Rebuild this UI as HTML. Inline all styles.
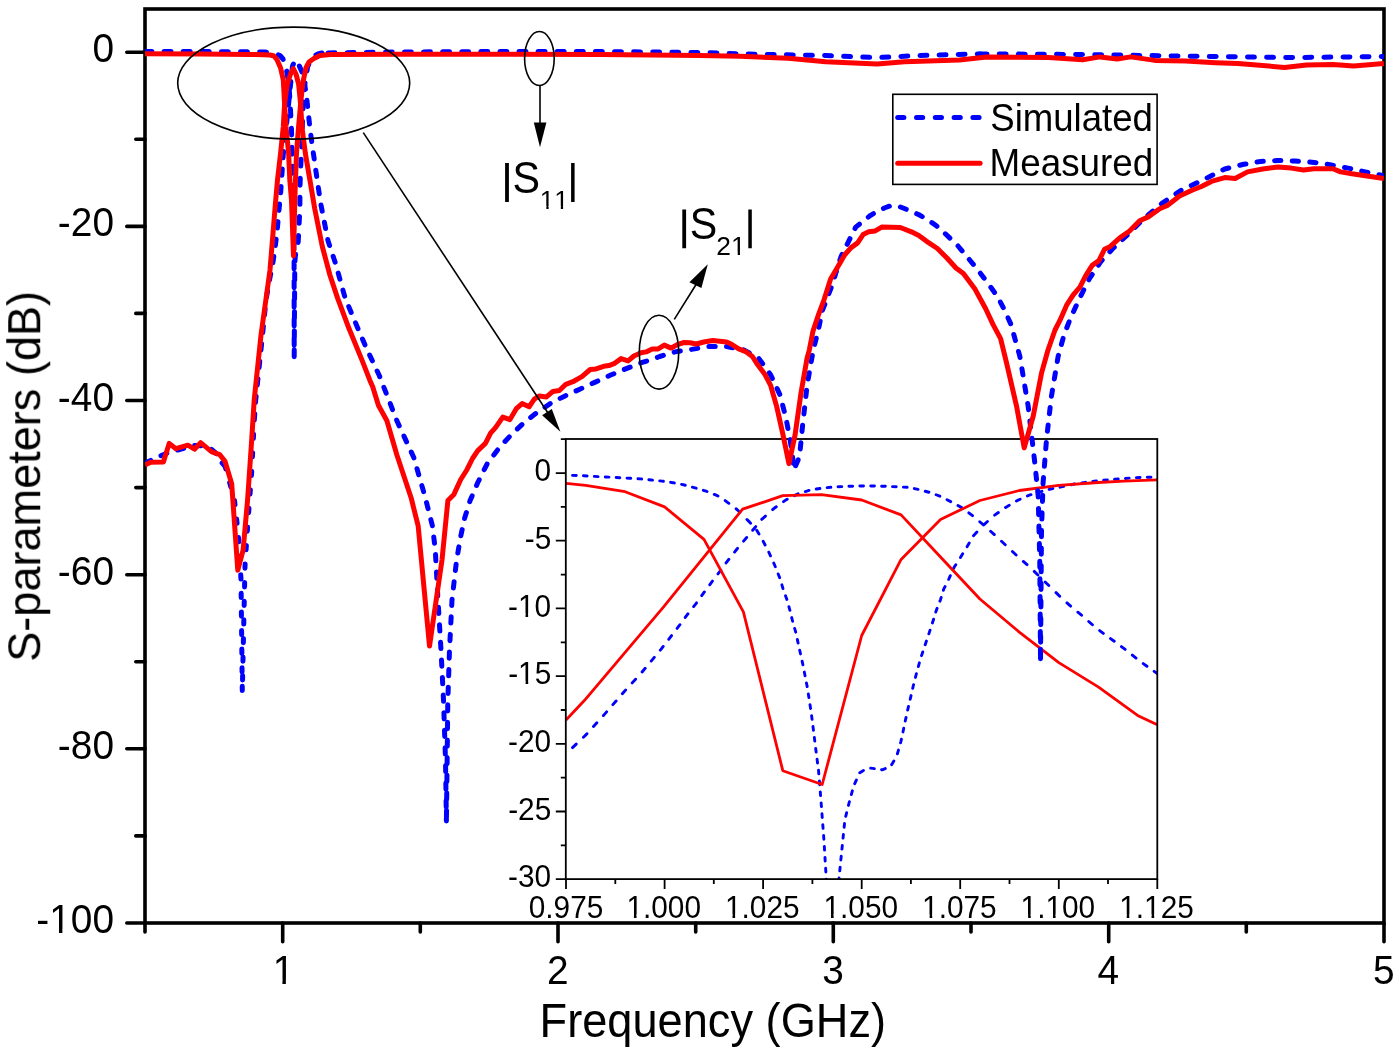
<!DOCTYPE html>
<html><head><meta charset="utf-8"><title>S-parameters</title><style>
html,body{margin:0;padding:0;background:#fff;}
body{width:1400px;height:1053px;overflow:hidden;font-family:"Liberation Sans", sans-serif;}
svg{display:block;}
</style></head><body>
<svg width="1400" height="1053" viewBox="0 0 1400 1053" font-family='"Liberation Sans", sans-serif'><rect width="1400" height="1053" fill="#fff"/><rect x="565.8" y="439.0" width="591.5" height="440.1" fill="#fff"/><defs><clipPath id="ic"><rect x="565.8" y="439.0" width="591.5" height="440.1"/></clipPath><clipPath id="mc"><rect x="145" y="9" width="1239" height="914"/></clipPath></defs><g clip-path="url(#ic)" fill="none" stroke-linejoin="round"><path d="M572.55,475.39L576.25,475.49M583.45,475.80L587.15,476.01M594.35,476.40L598.05,476.59M605.25,476.96L608.95,477.15M616.15,477.52L619.85,477.71M627.05,478.08L629.30,478.20L630.75,478.29M637.95,478.73L640.70,478.90L641.65,479.00M648.85,479.74L651.40,480.00L652.55,480.12M659.75,480.86L662.10,481.10L663.45,481.30M670.65,482.33L673.20,482.70L674.35,482.94M681.55,484.43L684.30,485.00L685.25,485.26M692.45,487.21L695.00,487.90L696.15,488.23M703.35,490.31L706.10,491.10L707.05,491.48M714.25,494.38L716.80,495.40L717.95,496.10M725.15,500.54L728.85,503.34M736.05,508.78L737.00,509.50L739.75,512.25M746.95,519.45L749.40,521.90L750.58,523.15M756.73,530.35L758.99,534.05M763.16,541.25L765.12,544.95M768.79,552.15L770.48,555.85M773.76,563.05L774.10,563.80L775.29,566.75M778.17,573.95L779.66,577.65M781.90,584.85L782.98,588.55M785.50,595.75L786.89,599.45M788.90,606.65L789.91,610.35M791.68,617.55L792.59,621.25M794.64,628.45L795.71,632.15M797.33,639.35L798.11,643.05M799.70,650.25L800.53,653.95M802.11,661.15L802.91,664.85M804.33,672.05L805.04,675.75M806.45,682.95L807.18,686.65M808.33,693.85L808.88,697.55M810.00,704.75L810.59,708.45M811.59,715.65L812.07,719.35M812.98,726.55L813.43,730.25M814.33,737.45L814.79,741.15M815.68,748.35L816.14,752.05M817.07,759.25L817.56,762.95M818.51,770.15L818.81,773.85M819.39,781.05L819.69,784.75M820.27,791.95L820.57,795.65M821.14,802.85L821.42,806.55M821.96,813.75L822.23,817.45M822.78,824.65L823.05,828.35M823.60,835.55L823.87,839.25M824.31,846.45L824.54,850.15M824.97,857.35L825.19,861.05M825.63,868.25L825.85,871.95M826.29,879.15L826.30,879.40M838.90,879.40L839.04,878.05M839.76,870.85L840.13,867.15M840.85,859.95L841.22,856.25M841.94,849.05L842.32,845.35M843.04,838.15L843.41,834.45M844.13,827.25L844.50,823.55M845.72,816.35L846.65,812.65M848.45,805.45L849.38,801.75M851.33,794.55L852.36,790.85M854.74,783.65L856.45,779.95M859.78,772.75L859.80,772.70L863.45,770.47M870.65,768.16L874.35,768.62M881.55,769.71L882.10,769.80L885.25,768.62M891.63,764.65L893.85,760.95M897.40,753.75L898.47,750.05M900.54,742.85L900.90,741.60L901.42,739.15M902.95,731.95L903.73,728.25M905.26,721.05L906.05,717.35M907.63,710.15L908.50,706.45M910.19,699.25L910.30,698.80L911.05,695.55M912.70,688.35L913.40,685.30L913.57,684.65M915.43,677.45L916.38,673.75M918.33,666.55L919.37,662.85M921.52,655.65L922.77,651.95M925.18,644.75L926.43,641.05M928.85,633.85L929.10,633.10L930.06,630.15M932.40,622.95L933.20,620.50L933.58,619.25M935.80,612.05L936.40,610.10L937.09,608.35M939.93,601.15L940.50,599.70L941.18,597.45M943.38,590.25L943.70,589.20L945.02,586.55M948.62,579.35L948.90,578.80L950.32,575.65M953.58,568.45L954.10,567.30L955.77,564.75M960.45,557.55L962.69,553.85M967.05,546.65L969.23,542.95M973.49,535.75L973.70,535.40L976.89,532.05M983.76,524.85L984.00,524.60L987.45,521.52M994.65,515.16L998.35,512.56M1005.55,507.51L1005.70,507.40L1009.25,505.30M1016.45,501.03L1017.50,500.40L1020.15,499.21M1027.35,495.96L1028.60,495.40L1031.05,494.63M1038.25,492.35L1040.00,491.80L1041.95,491.29M1049.15,489.41L1050.70,489.00L1052.85,488.58M1060.05,487.17L1061.40,486.90L1063.75,486.37M1070.95,484.74L1072.90,484.30L1074.65,484.02M1081.85,482.88L1083.60,482.60L1085.55,482.33M1092.75,481.32L1094.30,481.10L1096.45,480.90M1103.65,480.25L1107.35,479.91M1114.55,479.28L1118.25,478.99M1125.45,478.44L1129.15,478.15M1136.35,477.66L1140.05,477.54M1147.25,477.32L1150.95,477.20M572.53,747.61L576.23,744.11M583.43,737.29L585.00,735.80L586.94,733.67M593.48,726.47L596.85,722.77M603.39,715.57L604.00,714.90L606.63,711.87M612.88,704.67L616.09,700.97M622.33,693.77L623.00,693.00L625.66,690.07M632.21,682.87L635.57,679.17M642.11,671.97L645.19,668.27M651.19,661.07L654.28,657.37M660.28,650.17L661.00,649.30L663.18,646.47M668.72,639.27L671.56,635.57M677.10,628.37L679.95,624.67M685.23,617.47L687.70,614.10L687.96,613.77M693.63,606.57L696.20,603.30L696.51,602.87M701.70,595.67L704.20,592.20L704.37,591.97M709.70,584.77L712.20,581.40L712.45,581.07M717.97,573.87L720.70,570.30L720.80,570.17M726.08,562.97L727.60,560.90L728.89,559.27M734.58,552.07L737.00,549.00L737.53,548.37M743.56,541.17L746.66,537.47M752.67,530.27L755.74,526.57M761.73,519.37L765.43,516.06M772.63,509.62L774.10,508.30L776.33,506.72M783.53,501.63L786.40,499.60L787.23,499.19M794.43,495.65L798.13,493.83M805.33,491.54L809.03,490.42M816.23,489.01L819.93,488.45M827.13,487.60L830.83,487.30M838.03,486.79L841.73,486.61M848.93,486.28L852.63,486.19M859.83,486.00L860.00,486.00L863.53,486.00M870.73,486.00L872.00,486.00L874.43,486.05M881.63,486.19L885.33,486.27M892.53,486.60L896.23,486.79M903.43,487.14L907.13,487.31M914.33,488.57L918.03,489.39M925.23,491.25L928.93,492.24M936.13,494.76L939.83,496.13M947.03,499.70L950.73,501.64M957.93,505.58L961.63,507.62M968.83,512.82L972.53,515.69M979.73,521.73L983.43,524.88M990.63,531.25L994.33,534.57M1001.53,541.24L1005.23,544.73M1012.43,551.54L1016.13,555.04M1023.33,561.44L1027.03,564.64M1034.23,571.40L1037.93,575.00M1045.13,581.96L1048.83,585.52M1056.03,592.63L1059.73,596.33M1066.93,602.87L1070.63,606.15M1077.83,612.19L1081.53,615.23M1088.73,621.46L1092.43,624.74M1099.63,630.55L1103.33,633.36M1110.53,638.62L1114.23,641.24M1121.43,646.57L1125.13,649.42M1132.33,655.08L1136.03,658.05M1143.23,663.58L1146.93,666.28M1154.13,671.33L1157.30,673.50" stroke="#00f" stroke-width="2.9" stroke-linecap="round" stroke-linejoin="round" fill="none"/><polyline points="566.0,483.3 585.7,485.4 625.1,491.7 664.6,506.9 704.0,539.3 743.4,611.9 782.8,770.7 822.2,784.5 861.7,635.5 901.1,559.4 940.5,519.5 979.9,500.5 1019.3,490.5 1058.8,485.4 1098.2,482.5 1123.8,481.2 1157.3,479.8" stroke="#f00" stroke-width="2.8"/><polyline points="566.0,720.0 584.1,700.8 663.4,607.1 742.6,509.2 782.8,495.7 821.4,494.7 861.7,500.0 901.1,514.9 940.5,557.0 979.9,599.0 1019.3,632.1 1058.8,662.6 1098.2,686.9 1137.6,715.4 1157.3,724.8" stroke="#f00" stroke-width="2.8"/></g><rect x="565.8" y="439.0" width="591.5" height="440.1" fill="none" stroke="#000" stroke-width="1.8"/><path d="M560.8,439.2H565.8 M555.8,473.1H565.8 M560.8,506.9H565.8 M555.8,540.7H565.8 M560.8,574.6H565.8 M555.8,608.4H565.8 M560.8,642.3H565.8 M555.8,676.1H565.8 M560.8,710.0H565.8 M555.8,743.8H565.8 M560.8,777.6H565.8 M555.8,811.5H565.8 M560.8,845.3H565.8 M555.8,879.2H565.8 M566.0,879.1V889.1 M615.3,879.1V884.1 M664.6,879.1V889.1 M713.8,879.1V884.1 M763.1,879.1V889.1 M812.4,879.1V884.1 M861.7,879.1V889.1 M910.9,879.1V884.1 M960.2,879.1V889.1 M1009.5,879.1V884.1 M1058.8,879.1V889.1 M1108.0,879.1V884.1 M1157.3,879.1V889.1" stroke="#000" stroke-width="1.8" fill="none"/><rect x="145" y="9" width="1239" height="914" fill="none" stroke="#000" stroke-width="3.6"/><path d="M126.8,52.2H145 M135.8,139.3H145 M126.8,226.4H145 M135.8,313.4H145 M126.8,400.5H145 M135.8,487.6H145 M126.8,574.7H145 M135.8,661.8H145 M126.8,748.8H145 M135.8,835.9H145 M126.8,923.0H145 M145.0,923V932.0 M282.7,923V941.8 M420.3,923V932.0 M558.0,923V941.8 M695.7,923V932.0 M833.3,923V941.8 M971.0,923V932.0 M1108.7,923V941.8 M1246.3,923V932.0 M1384.0,923V941.8" stroke="#000" stroke-width="3.6" stroke-linecap="round" fill="none"/><g clip-path="url(#mc)" fill="none" stroke-linejoin="round"><polyline points="145.0,51.5 200.0,51.5 265.0,52.0 273.0,53.0 280.0,55.5 283.0,59.0 286.5,70.0 289.0,85.0 290.5,110.0 291.5,130.0 292.0,155.0 292.6,180.0 293.0,200.0 293.8,240.0 294.1,260.0 294.2,357.0 294.5,310.0 294.8,262.0 296.0,250.0 298.2,242.0 299.0,226.0 299.9,208.0 299.9,189.0 300.6,169.0 301.5,152.0 302.5,120.0 303.5,98.0 305.0,83.0 307.6,67.0 310.2,61.0 313.0,56.5 318.0,54.0 322.0,53.0" stroke="#00f" stroke-width="5" stroke-dasharray="6.9 12.2" stroke-dashoffset="0.00" stroke-linecap="round"/><polyline points="322.0,53.0 400.0,52.0 500.0,51.5 600.0,51.5 700.0,52.5 740.0,53.9 825.7,55.6 877.1,57.6 918.3,55.6 980.0,53.9" stroke="#00f" stroke-width="5" stroke-dasharray="6.9 12.2" stroke-dashoffset="13.07" stroke-linecap="round"/><polyline points="980.0,53.9 1082.8,54.5 1151.4,55.6 1220.0,56.6 1290.0,57.6 1384.0,56.5" stroke="#00f" stroke-width="5" stroke-dasharray="6.9 12.2" stroke-dashoffset="18.98" stroke-linecap="round"/><polyline points="145.0,463.0 155.0,458.5 161.3,455.5 170.0,452.0 176.0,450.5 185.0,448.0 194.3,445.4 203.0,446.0 211.4,449.3 218.0,455.0 222.0,462.9 225.0,466.0" stroke="#00f" stroke-width="5" stroke-dasharray="6.3 11.3" stroke-dashoffset="0.00" stroke-linecap="round"/><polyline points="225.0,466.0 234.4,499.7 238.3,534.3 241.0,579.5 242.3,691.1" stroke="#00f" stroke-width="5" stroke-dasharray="4.3 14.3" stroke-dashoffset="1.31" stroke-linecap="round"/><polyline points="242.3,691.1 245.0,566.2 247.6,526.3 251.6,473.2 254.3,420.0" stroke="#00f" stroke-width="5" stroke-dasharray="4.3 14.3" stroke-dashoffset="7.39" stroke-linecap="round"/><polyline points="254.3,420.0 255.7,400.0 262.0,340.0 266.0,300.0 269.5,280.0 273.0,262.0 275.1,248.0 277.3,229.0 279.0,210.0 280.7,192.0 283.3,154.0 286.5,125.0 289.0,100.0 291.0,80.0 292.5,66.0 295.0,60.5 298.0,63.0 302.0,72.0 306.0,92.0 308.0,110.0 310.0,129.0 312.6,148.0 315.2,166.0 317.9,185.0 321.0,205.0 328.0,240.8 335.6,263.7 345.1,297.9 354.6,320.7 366.0,347.3 379.4,375.8 396.9,420.8 413.9,457.8 425.3,497.7 432.5,526.2 435.3,550.0 438.0,600.0 441.0,650.0 443.5,700.0 445.5,760.0 446.4,821.0" stroke="#00f" stroke-width="5" stroke-dasharray="6.3 11.3" stroke-dashoffset="0.00" stroke-linecap="round"/><polyline points="446.4,821.0 446.9,780.0 447.8,702.0 449.5,650.0 452.0,600.0 456.6,560.0 460.6,536.9 464.6,518.3 469.9,501.1 477.8,482.5 487.1,463.9 499.1,447.9 510.8,435.2 524.5,422.1 536.9,412.6 552.3,402.3 565.1,395.9 579.3,389.4 594.7,382.4 610.1,375.3 625.6,368.9 642.3,362.4 649.1,360.3 659.7,356.5 674.9,351.9 690.1,349.6 708.4,346.6 726.6,346.6 743.3,349.6 758.5,358.0 770.6,374.7 779.8,394.4 785.8,417.2 790.4,441.5 794.2,468.9" stroke="#00f" stroke-width="5" stroke-dasharray="6.3 11.3" stroke-dashoffset="13.22" stroke-linecap="round"/><polyline points="794.2,468.9 799.5,456.7 802.5,426.3 807.1,385.3 813.2,350.4 818.5,329.1 822.3,310.7 831.6,286.6 840.9,256.9 855.7,227.1 870.6,215.3 878.0,211.0 884.3,208.0 890.0,206.0 895.0,205.5 900.0,206.8 905.0,208.8 912.0,211.6 919.0,214.8 926.0,218.7 932.9,223.3 939.3,228.0 957.8,245.7 976.4,268.0 987.0,282.0 997.5,296.5 1004.5,310.0 1011.0,324.5 1019.9,356.6 1028.2,406.4 1034.8,462.8 1038.2,496.1 1039.8,562.5 1040.5,658.8" stroke="#00f" stroke-width="5" stroke-dasharray="6.3 11.3" stroke-dashoffset="14.09" stroke-linecap="round"/><polyline points="1040.5,658.8 1041.5,529.3 1043.1,482.8 1046.5,439.6 1051.4,396.4 1058.1,356.6 1064.0,335.0 1070.4,318.5 1079.9,297.6 1089.4,278.7 1100.8,261.6 1112.2,249.2 1127.4,235.0 1142.6,219.8 1161.6,203.6 1182.5,189.4 1201.4,180.8 1224.7,169.0 1243.7,164.3 1260.8,161.4 1277.9,160.5 1295.0,161.1 1314.0,162.4 1331.0,164.9 1348.1,168.1 1365.2,171.9 1384.0,175.7" stroke="#00f" stroke-width="5" stroke-dasharray="6.3 11.3" stroke-dashoffset="1.06" stroke-linecap="round"/><polyline points="145.0,53.8 200.0,54.0 250.0,54.5 265.0,54.8 270.0,55.0 274.0,56.0 277.0,59.8 280.6,68.0 283.3,80.0 284.6,104.0 286.0,126.5 288.6,153.0 289.8,180.0 291.5,200.0 293.5,256.0 294.8,200.0 295.5,180.0 296.5,153.0 298.6,126.5 300.6,104.0 302.6,84.0 305.9,68.0 309.0,62.0 313.9,58.5 320.0,55.5 330.0,54.5 400.0,54.2 500.0,54.2 600.0,54.5 700.0,55.5 740.0,56.3 788.0,58.3 825.7,61.7 877.1,64.1 904.6,61.7 959.4,60.0 986.8,56.9 1048.5,57.6 1082.8,59.7 1100.0,56.9 1117.1,59.0 1130.8,56.9 1154.8,60.4 1185.7,61.1 1215.2,62.7 1238.0,63.6 1262.7,65.5 1284.5,67.4 1306.4,65.1 1333.0,64.6 1353.8,66.1 1383.9,63.6" stroke="#f00" stroke-width="5"/><polyline points="145.0,465.0 150.6,462.3 163.4,462.0 169.2,443.4 175.9,448.7 187.8,445.2 194.5,449.2 200.6,442.6 211.8,451.9 219.7,454.6 225.0,461.2 231.7,483.8 237.8,570.2 243.1,550.2 247.6,499.7 251.6,441.3 254.2,400.0 261.0,335.0 270.0,270.0 275.3,205.0 277.5,180.0 280.6,153.0 283.3,126.5 284.6,104.0 287.3,84.0 290.5,74.0 293.3,68.6 296.0,74.0 298.6,84.0 300.6,104.0 301.9,126.5 305.3,153.0 309.9,180.0 314.7,208.5 322.3,246.5 329.9,275.0 337.5,297.9 348.9,328.3 362.2,360.6 369.8,380.2 372.7,386.7 378.4,405.2 386.9,420.8 396.9,455.0 411.1,497.7 418.2,526.2 429.5,646.1 442.0,560.0 447.9,500.4 453.9,494.4 460.6,479.8 467.2,469.2 472.5,458.5 477.8,450.6 485.4,443.4 490.6,433.1 495.7,427.4 502.8,417.1 509.9,419.6 516.3,408.7 522.1,403.6 529.1,406.8 534.3,399.1 539.4,395.9 546.5,396.9 552.9,391.4 559.4,390.5 565.8,384.3 572.9,381.7 581.9,376.6 590.2,369.5 596.0,368.9 603.7,366.3 608.9,365.6 614.0,363.7 621.1,358.6 628.1,360.9 633.9,356.0 641.0,352.8 646.1,351.9 652.2,348.9 658.2,348.9 664.3,345.1 671.1,348.1 678.0,344.3 684.1,342.5 690.1,342.8 696.2,344.0 703.8,342.0 712.9,340.5 726.6,342.0 731.1,344.0 738.7,348.9 746.3,351.9 752.4,356.5 757.7,364.8 764.6,373.9 770.6,385.3 776.7,406.6 782.8,433.9 788.9,463.6 795.0,435.4 801.0,392.9 807.1,358.0 809.3,350.1 813.0,331.1 818.6,314.4 824.1,299.6 830.6,279.1 837.1,268.0 844.6,255.0 851.1,247.6 857.6,242.9 863.1,234.6 868.7,231.8 875.2,230.9 881.7,227.1 900.3,227.5 911.4,231.8 918.8,235.5 926.3,241.1 937.4,248.5 946.7,257.8 956.0,268.0 963.4,273.6 974.6,288.4 985.7,308.8 993.1,324.6 1000.6,338.6 1006.6,363.2 1016.6,406.4 1024.2,447.9 1033.2,416.3 1041.5,373.2 1048.0,350.0 1055.0,330.0 1059.9,320.4 1066.6,305.2 1073.2,294.8 1079.9,287.2 1085.6,275.8 1092.2,265.4 1098.9,260.6 1104.6,249.2 1110.3,246.4 1119.8,237.8 1129.3,231.2 1139.7,220.7 1148.3,216.9 1159.7,208.8 1167.3,205.5 1179.6,196.0 1192.0,190.3 1201.4,186.5 1211.4,181.4 1224.7,177.6 1235.1,178.5 1247.5,171.9 1262.7,169.0 1277.9,167.1 1291.2,168.1 1303.5,170.0 1314.0,168.7 1333.0,168.7 1340.6,171.9 1351.9,173.8 1365.2,175.7 1383.9,178.5" stroke="#f00" stroke-width="5"/></g><g fill="none" stroke="#000" stroke-width="1.6"><ellipse cx="293.7" cy="83.1" rx="116" ry="56"/><ellipse cx="539.4" cy="58.5" rx="14.8" ry="27"/><ellipse cx="659" cy="352.2" rx="19.7" ry="36.9"/><line x1="363.3" y1="132.6" x2="547.5" y2="412.2"/><line x1="540" y1="85.5" x2="540" y2="125"/><line x1="674.3" y1="319.3" x2="697" y2="283"/></g><g fill="#000"><polygon points="560.4,431.8 542.1,415.3 551.8,409"/><polygon points="540,147.3 533.8,122.6 546.4,122.6"/><polygon points="707.8,264.2 689.4,282.2 701.4,288.1"/></g><path d="M505.1,163.0h3.8v38.9h-3.8zM571.1,163.0h3.5v38.9h-3.5z" fill="#000"/><path d="M682.3,209.4h3.8v38.9h-3.8zM748.3,209.4h3.5v38.9h-3.5z" fill="#000"/><rect x="892.8" y="94.3" width="264.3" height="90.1" fill="#fff" stroke="#000" stroke-width="1.6"/><line x1="897.7" y1="117.6" x2="980.1" y2="117.6" stroke="#00f" stroke-width="5" stroke-dasharray="6.2 12.6" stroke-linecap="round"/><line x1="897.7" y1="163.2" x2="980.1" y2="163.2" stroke="#f00" stroke-width="5" stroke-linecap="round"/><filter id="gs" x="0" y="0" width="1400" height="1053" filterUnits="userSpaceOnUse"><feColorMatrix type="saturate" values="0"/></filter><g filter="url(#gs)"><text transform="translate(534.59,481.26) scale(1,1.0336)" font-size="29.80" style="font-kerning:none">0</text><text transform="translate(524.75,548.95) scale(1,1.0336)" font-size="29.80" style="font-kerning:none">-5</text><text transform="translate(508.09,616.63) scale(1,1.0336)" font-size="29.80" style="font-kerning:none">-10</text><path d="M519.29,613.43H525.51V617.63H519.29ZM528.14,613.43H534.14V617.63H528.14Z" fill="#fff"/><text transform="translate(508.18,684.32) scale(1,1.0336)" font-size="29.80" style="font-kerning:none">-15</text><path d="M519.37,681.11H525.60V685.32H519.37ZM528.23,681.11H534.22V685.32H528.23Z" fill="#fff"/><text transform="translate(508.09,752.00) scale(1,1.0336)" font-size="29.80" style="font-kerning:none">-20</text><text transform="translate(508.18,819.69) scale(1,1.0336)" font-size="29.80" style="font-kerning:none">-25</text><text transform="translate(508.09,887.37) scale(1,1.0336)" font-size="29.80" style="font-kerning:none">-30</text><text transform="translate(528.76,917.70) scale(1,1.0336)" font-size="29.80" style="font-kerning:none">0.975</text><text transform="translate(626.41,917.70) scale(1,1.0336)" font-size="29.80" style="font-kerning:none">1.000</text><path d="M627.68,914.50H633.91V918.70H627.68ZM636.54,914.50H642.53V918.70H636.54Z" fill="#fff"/><text transform="translate(725.01,917.70) scale(1,1.0336)" font-size="29.80" style="font-kerning:none">1.025</text><path d="M726.28,914.50H732.50V918.70H726.28ZM735.13,914.50H741.12V918.70H735.13Z" fill="#fff"/><text transform="translate(823.51,917.70) scale(1,1.0336)" font-size="29.80" style="font-kerning:none">1.050</text><path d="M824.78,914.50H831.01V918.70H824.78ZM833.64,914.50H839.63V918.70H833.64Z" fill="#fff"/><text transform="translate(922.11,917.70) scale(1,1.0336)" font-size="29.80" style="font-kerning:none">1.075</text><path d="M923.38,914.50H929.60V918.70H923.38ZM932.23,914.50H938.22V918.70H932.23Z" fill="#fff"/><text transform="translate(1020.61,917.70) scale(1,1.0336)" font-size="29.80" style="font-kerning:none">1.100</text><path d="M1021.88,914.50H1028.11V918.70H1021.88ZM1030.74,914.50H1036.73V918.70H1030.74Z" fill="#fff"/><path d="M1046.74,914.50H1052.96V918.70H1046.74ZM1055.59,914.50H1061.58V918.70H1055.59Z" fill="#fff"/><text transform="translate(1119.21,917.70) scale(1,1.0336)" font-size="29.80" style="font-kerning:none">1.125</text><path d="M1120.48,914.50H1126.70V918.70H1120.48ZM1129.33,914.50H1135.32V918.70H1129.33Z" fill="#fff"/><path d="M1145.33,914.50H1151.55V918.70H1145.33ZM1154.19,914.50H1160.18V918.70H1154.19Z" fill="#fff"/><text transform="translate(92.41,62.30) scale(1,1.0296)" font-size="38.85" style="font-kerning:none">0</text><text transform="translate(57.87,236.46) scale(1,1.0296)" font-size="38.85" style="font-kerning:none">-20</text><text transform="translate(57.87,410.62) scale(1,1.0296)" font-size="38.85" style="font-kerning:none">-40</text><text transform="translate(57.87,584.78) scale(1,1.0296)" font-size="38.85" style="font-kerning:none">-60</text><text transform="translate(57.87,758.94) scale(1,1.0296)" font-size="38.85" style="font-kerning:none">-80</text><text transform="translate(36.26,933.10) scale(1,1.0296)" font-size="38.85" style="font-kerning:none">-100</text><path d="M51.16,929.21H58.97V934.10H51.16ZM62.40,929.21H69.91V934.10H62.40Z" fill="#fff"/><text transform="translate(272.66,984.10) scale(1,1.0296)" font-size="38.85" style="font-kerning:none">1</text><path d="M274.62,980.21H282.43V985.10H274.62ZM285.86,980.21H293.37V985.10H285.86Z" fill="#fff"/><text transform="translate(546.89,984.10) scale(1,1.0296)" font-size="38.85" style="font-kerning:none">2</text><text transform="translate(822.22,984.10) scale(1,1.0296)" font-size="38.85" style="font-kerning:none">3</text><text transform="translate(1097.55,984.10) scale(1,1.0296)" font-size="38.85" style="font-kerning:none">4</text><text transform="translate(1372.88,984.10) scale(1,1.0296)" font-size="38.85" style="font-kerning:none">5</text><text transform="translate(539.59,1036.70) scale(1,1.0549)" font-size="45.19" style="font-kerning:none">Frequency (GHz)</text><text transform="translate(40.00,661.75) rotate(-90) scale(1,1.0421)" font-size="45.10" style="font-kerning:none">S-parameters (dB)</text><text transform="translate(512.43,192.80) scale(1,1.0655)" font-size="41.20" style="font-kerning:none">S</text><text transform="translate(539.80,209.00) scale(1,1.0231)" font-size="26.00" style="font-kerning:none">11</text><path d="M540.78,206.11H546.34V210.00H540.78ZM548.63,206.11H553.99V210.00H548.63Z" fill="#fff"/><path d="M555.24,206.11H560.80V210.00H555.24ZM563.09,206.11H568.45V210.00H563.09Z" fill="#fff"/><text transform="translate(689.63,239.20) scale(1,1.0655)" font-size="41.20" style="font-kerning:none">S</text><text transform="translate(716.37,255.40) scale(1,0.9924)" font-size="26.40" style="font-kerning:none">21</text><path d="M732.07,252.54H737.69V256.40H732.07ZM740.03,252.54H745.45V256.40H740.03Z" fill="#fff"/><text transform="translate(990.24,130.50) scale(1,1.0383)" font-size="36.60" style="font-kerning:none">Simulated</text><text transform="translate(989.48,175.80) scale(1,1.0309)" font-size="36.86" style="font-kerning:none">Measured</text></g></svg>
</body></html>
